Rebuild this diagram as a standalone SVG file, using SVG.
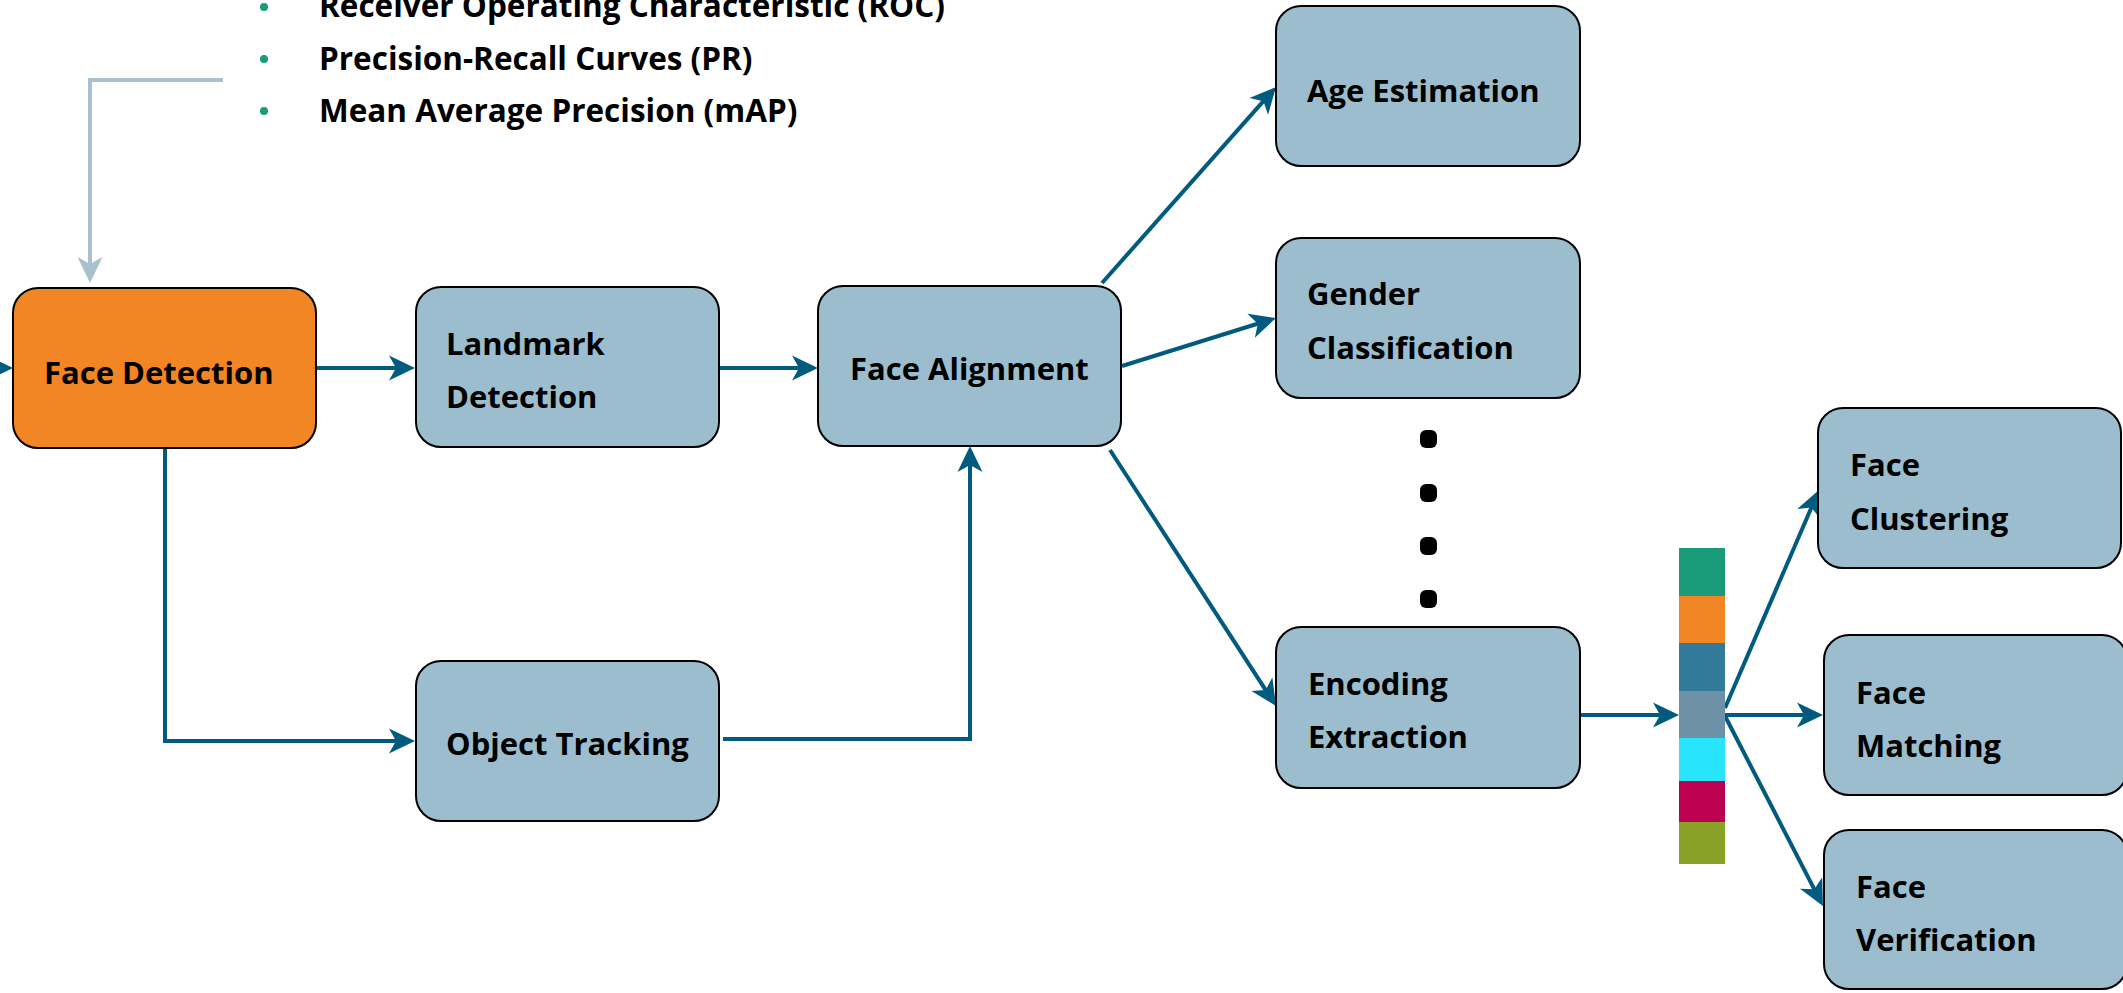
<svg xmlns="http://www.w3.org/2000/svg" width="2123" height="993" viewBox="0 0 2123 993">
<style>
.box{fill:#9bbdcd;stroke:#000;stroke-width:2}
.orange{fill:#f28524;stroke:#000;stroke-width:2}
.lbl{font-family:"Open Sans","Noto Sans","Liberation Sans",sans-serif;font-weight:700;font-size:31px;fill:#000}
.lst{font-size:31.5px}
.con{fill:none;stroke:#005b7f;stroke-width:4;marker-end:url(#ah)}
.gray{fill:none;stroke:#a9c1cd;stroke-width:4;marker-end:url(#ahg)}
.dot{fill:#000}
.bul{fill:#1a9c7b}
</style>
<defs>
<marker id="ah" viewBox="-22 -13 28 26" refX="0" refY="0" markerWidth="28" markerHeight="26" markerUnits="userSpaceOnUse" orient="auto">
<path d="M5,0 L-21,-12.5 L-14,0 L-21,12.5 Z" fill="#005b7f"/>
</marker>
<marker id="ahg" viewBox="-22 -13 28 26" refX="0" refY="0" markerWidth="28" markerHeight="26" markerUnits="userSpaceOnUse" orient="auto">
<path d="M5,0 L-21,-12.5 L-14,0 L-21,12.5 Z" fill="#a9c1cd"/>
</marker>
</defs>

<g id="metrics">
<circle class="bul" cx="264" cy="7" r="4"/>
<circle class="bul" cx="264" cy="59" r="4"/>
<circle class="bul" cx="264" cy="111" r="4"/>
<text class="lbl lst" x="319" y="17">Receiver Operating Characteristic (ROC)</text>
<text class="lbl lst" x="319" y="70">Precision-Recall Curves (PR)</text>
<text class="lbl lst" x="319" y="122">Mean Average Precision (mAP)</text>
</g>

<g id="connectors">
<path class="gray" d="M223,80 L90,80 L90,278"/>
<path class="con" d="M-30,368 L8,368"/>
<path class="con" d="M317,368 L410,368"/>
<path class="con" d="M719,368 L813,368"/>
<path class="con" d="M165,448 L165,741 L410,741"/>
<path class="con" d="M723,739 L970,739 L970,451"/>
<path class="con" d="M1102,283 L1272.7,90.7"/>
<path class="con" d="M1122,366 L1271.2,319.5"/>
<path class="con" d="M1110,450 L1273.3,701.8"/>
<path class="con" d="M1580,715 L1674,715"/>
<path class="con" d="M1725,708 L1817,494.6"/>
<path class="con" d="M1725,715 L1818,715"/>
<path class="con" d="M1725,716 L1820.7,901.6"/>
</g>

<g id="face-detection">
<rect class="orange" x="13" y="288" width="303" height="160" rx="25"/>
<text class="lbl" x="44" y="384">Face Detection</text>
</g>
<g id="landmark-detection">
<rect class="box" x="416" y="287" width="303" height="160" rx="25"/>
<text class="lbl" x="446" y="355">Landmark</text>
<text class="lbl" x="446" y="408">Detection</text>
</g>
<g id="face-alignment">
<rect class="box" x="818" y="286" width="303" height="160" rx="25"/>
<text class="lbl" x="850" y="380">Face Alignment</text>
</g>
<g id="object-tracking">
<rect class="box" x="416" y="661" width="303" height="160" rx="25"/>
<text class="lbl" x="446" y="755">Object Tracking</text>
</g>
<g id="age-estimation">
<rect class="box" x="1276" y="6" width="304" height="160" rx="25"/>
<text class="lbl" x="1307" y="102">Age Estimation</text>
</g>
<g id="gender-classification">
<rect class="box" x="1276" y="238" width="304" height="160" rx="25"/>
<text class="lbl" x="1307" y="305">Gender</text>
<text class="lbl" x="1307" y="359">Classification</text>
</g>
<g id="ellipsis">
<rect class="dot" x="1420" y="430" width="17" height="18" rx="6"/>
<rect class="dot" x="1420" y="484" width="17" height="18" rx="6"/>
<rect class="dot" x="1420" y="537" width="17" height="18" rx="6"/>
<rect class="dot" x="1420" y="590" width="17" height="18" rx="6"/>
</g>
<g id="encoding-extraction">
<rect class="box" x="1276" y="627" width="304" height="161" rx="25"/>
<text class="lbl" x="1308" y="695">Encoding</text>
<text class="lbl" x="1308" y="748">Extraction</text>
</g>
<g id="encoding-vector">
<rect x="1679" y="548" width="46" height="48" fill="#1a9c7b"/>
<rect x="1679" y="596" width="46" height="47" fill="#f28524"/>
<rect x="1679" y="643" width="46" height="48" fill="#327a99"/>
<rect x="1679" y="691" width="46" height="47" fill="#6d91a6"/>
<rect x="1679" y="738" width="46" height="43" fill="#28e4fd"/>
<rect x="1679" y="781" width="46" height="41" fill="#bd0050"/>
<rect x="1679" y="822" width="46" height="42" fill="#8aa127"/>
</g>
<g id="face-clustering">
<rect class="box" x="1818" y="408" width="303" height="160" rx="25"/>
<text class="lbl" x="1850" y="476">Face</text>
<text class="lbl" x="1850" y="530">Clustering</text>
</g>
<g id="face-matching">
<rect class="box" x="1824" y="635" width="303" height="160" rx="25"/>
<text class="lbl" x="1856" y="704">Face</text>
<text class="lbl" x="1856" y="757">Matching</text>
</g>
<g id="face-verification">
<rect class="box" x="1824" y="830" width="303" height="159" rx="25"/>
<text class="lbl" x="1856" y="898">Face</text>
<text class="lbl" x="1856" y="951">Verification</text>
</g>
</svg>
